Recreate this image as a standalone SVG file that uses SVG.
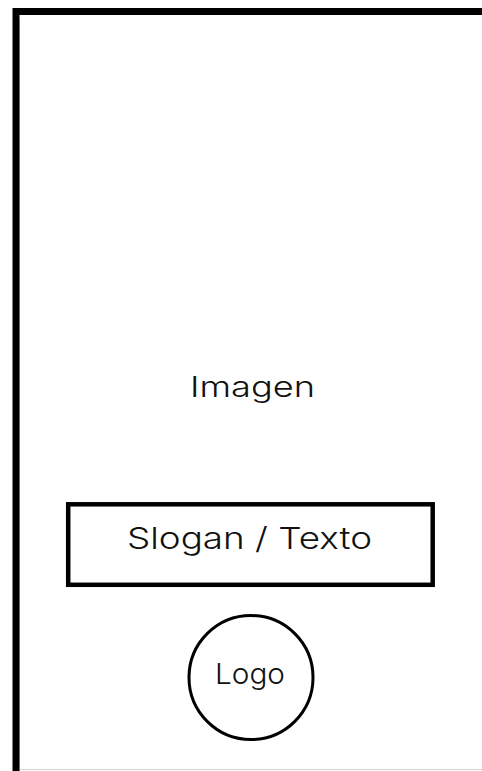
<svg xmlns="http://www.w3.org/2000/svg" width="482" height="771" viewBox="0 0 482 771">
  <style>
    .lbl { font-family: Inter, "Liberation Sans", sans-serif; font-weight: 300; fill: #111; text-anchor: middle; }
    .box { fill: #fff; stroke: #000; }
  </style>
  <rect width="482" height="771" fill="#fff"/>
  <g id="frame">
    <path d="M19.5 771 V19 M19 769.5 H482" fill="none" stroke="#d4d4d4" stroke-width="1"/>
    <path d="M16 775 V11.5 H490" fill="none" stroke="#000" stroke-width="7"/>
  </g>
  <g id="imagen">
    <text class="lbl" x="252.5" y="397" font-size="29" textLength="125" lengthAdjust="spacingAndGlyphs">Imagen</text>
  </g>
  <g id="slogan">
    <rect class="box" x="68.2" y="504.3" width="364.5" height="80.5" stroke-width="4.5"/>
    <text class="lbl" x="249.5" y="549" font-size="30" textLength="245" lengthAdjust="spacingAndGlyphs">Slogan / Texto</text>
  </g>
  <g id="logo">
    <circle class="box" cx="251" cy="677.5" r="62" stroke-width="3"/>
    <text class="lbl" x="250" y="684" font-size="29" textLength="70" lengthAdjust="spacingAndGlyphs">Logo</text>
  </g>
  <g id="connectors"/>
</svg>
